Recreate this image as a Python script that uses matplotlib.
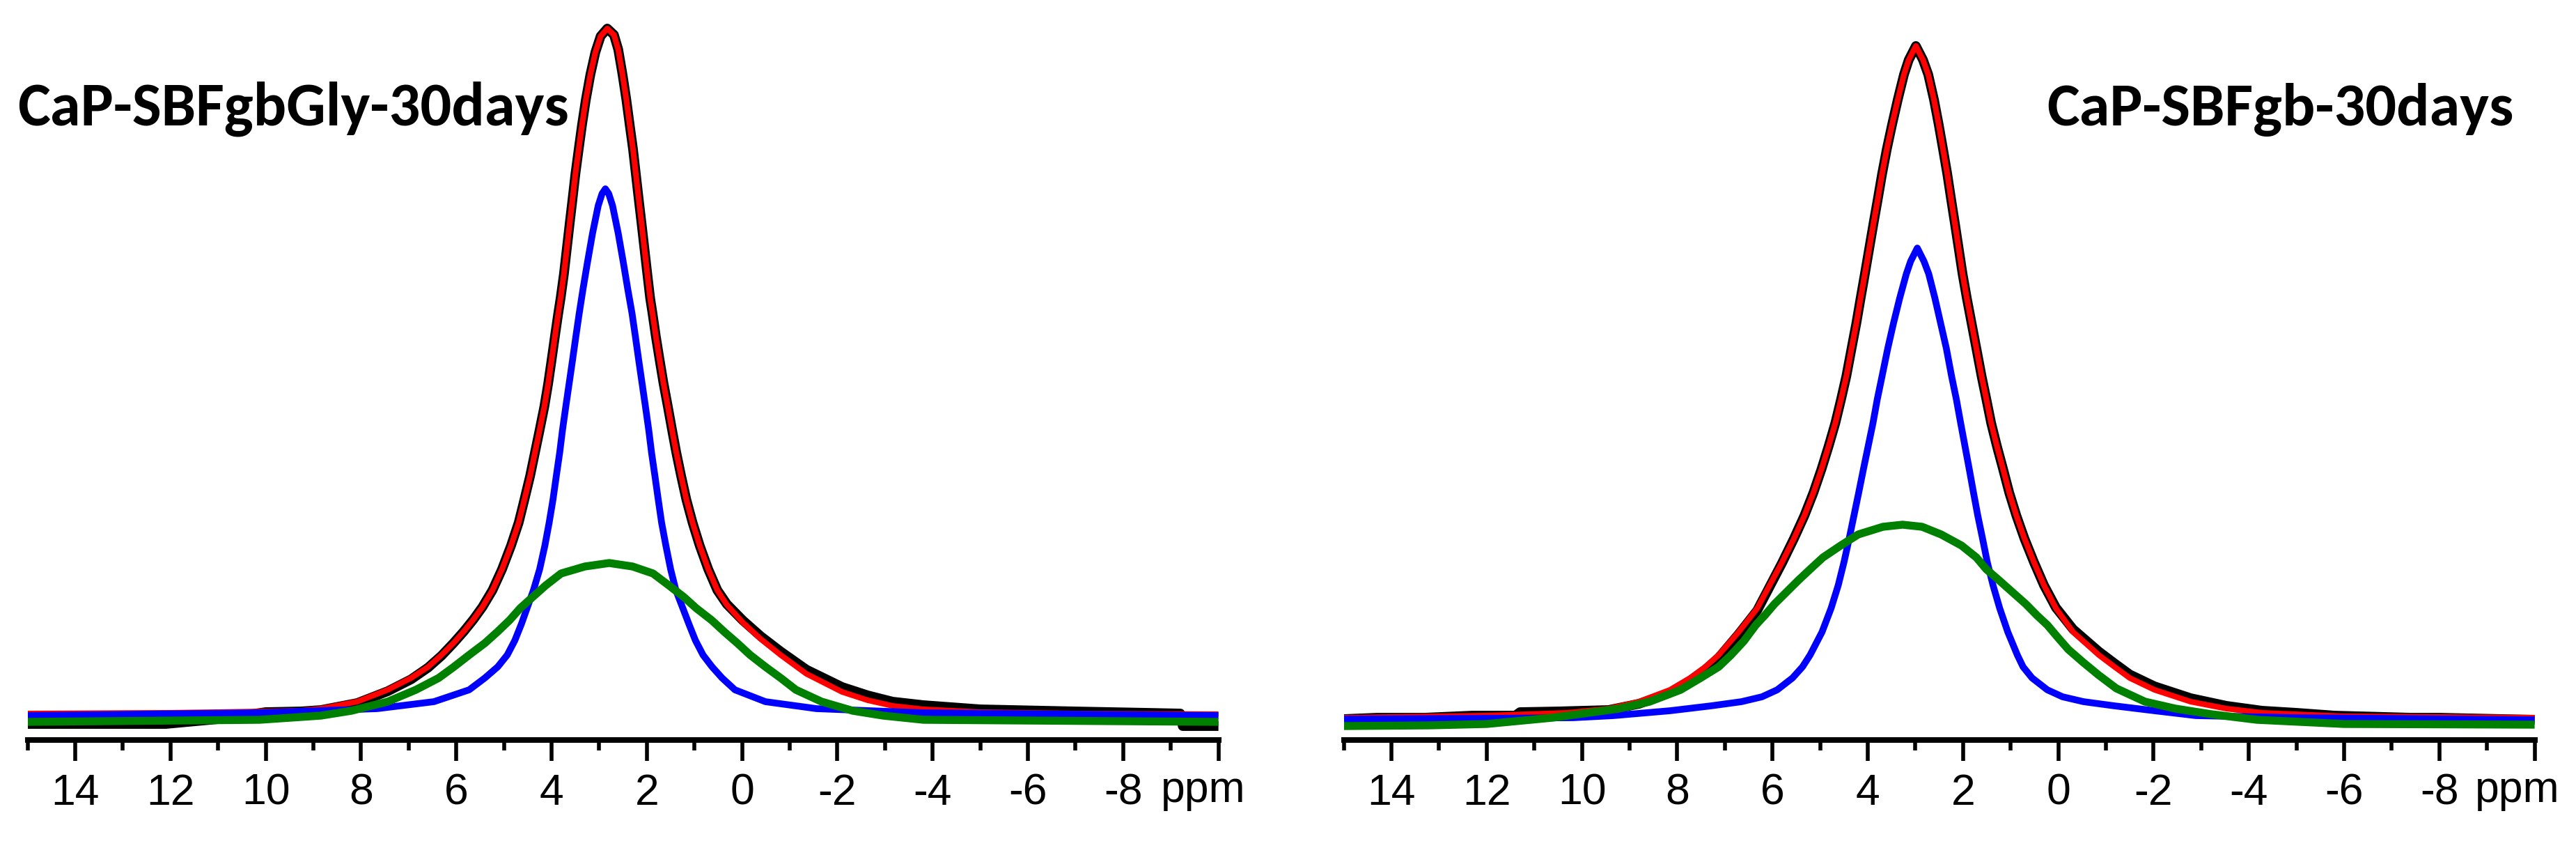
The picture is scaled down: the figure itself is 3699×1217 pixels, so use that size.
import matplotlib
matplotlib.use("Agg")
import matplotlib.pyplot as plt

# ---- data: (ppm, intensity above baseline) ----
# left panel: CaP-SBFgbGly-30days
gly_exp = [(15.0, 1), (12.1, 1), (11.0, 8), (10.0, 18), (9.26, 19), (8.84, 21), (8.08, 31),
           (7.44, 48), (6.95, 65), (6.59, 82), (6.31, 99), (6.06, 117), (5.84, 134), (5.64, 151),
           (5.45, 169), (5.24, 193), (5.04, 223), (4.85, 257), (4.69, 290), (4.57, 323), (4.45, 357),
           (4.35, 390), (4.25, 423), (4.15, 457), (4.07, 490), (4.00, 523), (3.93, 557), (3.86, 590),
           (3.81, 612), (3.74, 647), (3.68, 683), (3.62, 719), (3.56, 754), (3.50, 790), (3.43, 826),
           (3.36, 861), (3.28, 897), (3.185, 933), (3.08, 965), (2.97, 988), (2.83, 999), (2.69, 990),
           (2.60, 969), (2.51, 933), (2.43, 897), (2.36, 861), (2.29, 826), (2.23, 790), (2.17, 754),
           (2.11, 719), (2.05, 683), (1.99, 647), (1.93, 612), (1.88, 590), (1.81, 557), (1.73, 523),
           (1.65, 490), (1.56, 457), (1.47, 423), (1.38, 390), (1.28, 357), (1.17, 323), (1.04, 290),
           (0.89, 257), (0.71, 223), (0.52, 193), (0.32, 173), (-0.01, 150), (-0.39, 127),
           (-0.81, 105), (-1.35, 79), (-2.10, 54), (-2.64, 42), (-3.16, 33), (-3.81, 28), (-5.0, 22),
           (-7.0, 19), (-8.5, 17), (-9.2, 16), (-9.25, -2), (-10.0, -2)]
gly_fit = [(15.0, 16), (12.0, 17), (10.0, 19), (9.26, 20), (8.84, 23), (8.08, 33), (7.44, 50),
           (6.95, 67), (6.59, 83), (6.31, 100), (6.06, 117), (5.84, 134), (5.64, 151), (5.45, 169),
           (5.24, 193), (5.04, 223), (4.85, 257), (4.69, 290), (4.57, 323), (4.45, 357), (4.35, 390),
           (4.25, 423), (4.15, 457), (4.07, 490), (4.00, 523), (3.93, 557), (3.86, 590), (3.81, 612),
           (3.74, 647), (3.68, 683), (3.62, 719), (3.56, 754), (3.50, 790), (3.43, 826), (3.36, 861),
           (3.28, 897), (3.185, 933), (3.08, 965), (2.97, 988), (2.83, 999), (2.69, 990), (2.60, 969),
           (2.51, 933), (2.43, 897), (2.36, 861), (2.29, 826), (2.23, 790), (2.17, 754), (2.11, 719),
           (2.05, 683), (1.99, 647), (1.93, 612), (1.88, 590), (1.81, 557), (1.73, 523), (1.65, 490),
           (1.56, 457), (1.47, 423), (1.38, 390), (1.28, 357), (1.17, 323), (1.04, 290), (0.89, 257),
           (0.71, 223), (0.52, 193), (0.32, 172), (-0.01, 147), (-0.39, 123), (-0.81, 100),
           (-1.35, 73), (-2.10, 47), (-2.64, 35), (-3.16, 27), (-3.81, 22), (-5.0, 18), (-7.0, 16),
           (-10.0, 15)]
gly_narrow = [(15.0, 13), (10.13, 17), (7.66, 23), (6.47, 33), (5.73, 50), (5.40, 67), (5.13, 83),
              (4.93, 100), (4.77, 121), (4.63, 145), (4.50, 170), (4.38, 193), (4.25, 223),
              (4.14, 257), (4.05, 290), (3.97, 323), (3.90, 357), (3.83, 390), (3.77, 423),
              (3.70, 457), (3.63, 490), (3.56, 523), (3.49, 557), (3.42, 590), (3.34, 625),
              (3.25, 662), (3.14, 705), (3.02, 745), (2.94, 762), (2.87, 769), (2.80, 762),
              (2.72, 745), (2.60, 705), (2.49, 662), (2.40, 625), (2.31, 590), (2.24, 557),
              (2.17, 523), (2.10, 490), (2.03, 457), (1.96, 423), (1.90, 390), (1.83, 357),
              (1.76, 323), (1.69, 290), (1.60, 257), (1.50, 223), (1.39, 193), (1.26, 170),
              (1.12, 145), (0.98, 121), (0.82, 100), (0.63, 83), (0.42, 67), (0.15, 50),
              (-0.49, 33), (-1.56, 23), (-3.81, 17), (-10.0, 13)]
gly_broad = [(15.0, 4), (10.13, 7), (8.84, 13), (8.20, 20), (7.44, 33), (6.85, 50), (6.37, 67),
             (6.05, 83), (5.73, 100), (5.40, 117), (5.14, 133), (4.88, 150), (4.66, 167), (4.40, 183),
             (4.12, 200), (3.80, 217), (3.30, 227), (2.79, 232), (2.30, 227), (1.87, 217), (1.54, 200),
             (1.22, 183), (0.96, 167), (0.64, 150), (0.37, 133), (0.10, 117), (-0.17, 100), (-0.49, 83),
             (-0.81, 67), (-1.13, 50), (-1.67, 33), (-2.32, 20), (-2.96, 13), (-3.81, 7), (-10.0, 4)]

# right panel: CaP-SBFgb-30days
gb_exp = [(15.0, 12), (14.3, 14), (13.3, 14), (12.3, 17), (11.4, 17), (11.3, 22), (10.5, 23),
          (9.44, 25), (8.80, 34), (8.15, 50), (7.73, 67), (7.41, 83), (7.13, 100), (6.71, 134),
          (6.32, 168), (6.06, 202), (5.80, 236), (5.55, 271), (5.33, 304), (5.14, 337), (4.97, 371),
          (4.82, 404), (4.68, 437), (4.56, 471), (4.45, 504), (4.34, 544), (4.24, 580), (4.15, 616),
          (4.06, 651), (3.97, 687), (3.88, 723), (3.79, 758), (3.70, 794), (3.60, 830), (3.49, 865),
          (3.37, 901), (3.24, 937), (3.14, 958), (2.99, 978), (2.84, 958), (2.73, 937), (2.61, 901),
          (2.51, 865), (2.42, 830), (2.33, 794), (2.25, 758), (2.17, 723), (2.09, 687), (2.01, 651),
          (1.92, 616), (1.82, 580), (1.72, 544), (1.61, 504), (1.51, 471), (1.41, 437), (1.29, 404),
          (1.16, 371), (1.03, 337), (0.88, 304), (0.71, 271), (0.51, 237), (0.30, 204), (0.05, 172),
          (-0.31, 141), (-0.85, 109), (-1.18, 92), (-1.50, 76), (-2.02, 59), (-2.78, 42),
          (-3.53, 31), (-4.28, 24), (-5.0, 21), (-5.8, 17), (-7.4, 14), (-8.0, 14), (-10.0, 11)]
gb_fit = [(15.0, 14), (12.0, 17), (10.30, 21), (9.44, 27), (8.80, 37), (8.15, 54), (7.73, 71),
          (7.41, 87), (7.13, 104), (6.71, 137), (6.32, 171), (6.06, 204), (5.80, 237), (5.55, 271),
          (5.33, 304), (5.14, 337), (4.97, 371), (4.82, 404), (4.68, 437), (4.56, 471), (4.45, 504),
          (4.34, 544), (4.24, 580), (4.15, 616), (4.06, 651), (3.97, 687), (3.88, 723), (3.79, 758),
          (3.70, 794), (3.60, 830), (3.49, 865), (3.37, 901), (3.24, 937), (3.14, 958), (2.99, 978),
          (2.84, 958), (2.73, 937), (2.61, 901), (2.51, 865), (2.42, 830), (2.33, 794), (2.25, 758),
          (2.17, 723), (2.09, 687), (2.01, 651), (1.92, 616), (1.82, 580), (1.72, 544), (1.61, 504),
          (1.51, 471), (1.41, 437), (1.29, 404), (1.16, 371), (1.03, 337), (0.88, 304), (0.71, 271),
          (0.51, 237), (0.30, 204), (0.05, 171), (-0.31, 137), (-0.85, 104), (-1.18, 87),
          (-1.50, 71), (-2.02, 54), (-2.78, 37), (-3.53, 27), (-4.28, 21), (-6.0, 16), (-10.0, 14)]
gb_narrow = [(15.0, 12), (12.0, 13), (10.18, 14), (9.34, 17), (8.15, 24), (7.29, 31), (6.65, 37),
             (6.22, 44), (5.90, 54), (5.58, 71), (5.37, 87), (5.21, 104), (4.96, 137), (4.77, 171),
             (4.62, 204), (4.50, 237), (4.39, 271), (4.29, 304), (4.19, 337), (4.09, 371), (3.99, 404),
             (3.89, 437), (3.80, 471), (3.70, 504), (3.58, 544), (3.46, 580), (3.33, 616), (3.19, 651),
             (3.10, 669), (2.96, 688), (2.82, 669), (2.72, 651), (2.59, 616), (2.47, 580), (2.35, 544),
             (2.24, 504), (2.14, 471), (2.05, 437), (1.96, 404), (1.87, 371), (1.78, 337), (1.69, 304),
             (1.59, 271), (1.49, 237), (1.37, 204), (1.23, 171), (1.06, 137), (0.86, 104), (0.74, 87),
             (0.55, 71), (0.23, 54), (-0.09, 44), (-0.53, 37), (-1.18, 31), (-2.02, 24), (-2.89, 17),
             (-5.0, 14), (-10.0, 11)]
gb_broad = [(15.0, 2), (13.2, 3), (12.0, 5), (10.62, 14), (9.86, 21), (9.22, 27), (8.58, 37),
            (7.93, 54), (7.51, 71), (7.13, 87), (6.87, 104), (6.60, 124), (6.35, 147), (6.16, 161),
            (5.96, 177), (5.71, 194), (5.46, 211), (5.21, 227), (4.94, 244), (4.57, 261), (4.20, 277),
            (3.68, 288), (3.27, 291), (2.86, 288), (2.46, 277), (2.03, 261), (1.72, 244), (1.51, 227),
            (1.24, 211), (0.96, 194), (0.68, 177), (0.45, 161), (0.23, 147), (0.02, 130),
            (-0.21, 112), (-0.53, 93), (-0.85, 75), (-1.22, 56), (-1.82, 37), (-2.46, 27),
            (-3.21, 19), (-4.17, 11), (-6.0, 5), (-10.0, 4)]

titles = ["CaP-SBFgbGly-30days", "CaP-SBFgb-30days"]
major_ticks = [14, 12, 10, 8, 6, 4, 2, 0, -2, -4, -6, -8, -10]
minor_ticks = [15, 13, 11, 9, 7, 5, 3, 1, -1, -3, -5, -7, -9]
tick_labels = ["14", "12", "10", "8", "6", "4", "2", "0", "-2", "-4", "-6", "-8", ""]

W, H = 3699, 1217
fig = plt.figure(figsize=(W / 100, H / 100), dpi=100)

num_font = ["Liberation Sans Narrow", "Liberation Sans", "DejaVu Sans"]
title_font = ["Carlito", "Lato", "DejaVu Sans"]


def draw_panel(left_px, ybot, curves):
    ax = fig.add_axes([left_px / W, (H - 1062) / H, 1710 / W, 1062 / H])
    ax.set_xlim(15, -10)
    ax.set_ylim(ybot, ybot + 1062)
    # experimental, total fit, narrow component, broad component
    styles = [("black", 10), ("#ff0000", 5.8), ("#0000ff", 7), ("#008000", 8.2)]
    for pts, (col, lw) in zip(curves, styles):
        x = [p[0] for p in pts]
        y = [p[1] for p in pts]
        ax.plot(x, y, color=col, lw=lw, solid_joinstyle="round", solid_capstyle="butt")
    for s in ["top", "left", "right"]:
        ax.spines[s].set_visible(False)
    ax.spines["bottom"].set_linewidth(5.8)
    ax.set_yticks([])
    ax.set_xticks(major_ticks)
    ax.set_xticklabels(tick_labels, fontfamily=num_font)
    ax.set_xticks(minor_ticks, minor=True)
    ax.tick_params(axis="x", which="major", direction="out", length=21.6, width=4,
                   pad=12, labelsize=45)
    ax.tick_params(axis="x", which="minor", direction="out", length=11, width=4)
    ax.patch.set_alpha(0)
    return ax


axL = draw_panel(39.6, -22, [gly_exp, gly_fit, gly_narrow, gly_broad])
axR = draw_panel(1929.6, -18, [gb_exp, gb_fit, gb_narrow, gb_broad])

# unit label in place of the last tick label
for xc in [1728, 3615]:
    fig.text(xc / W, 1 - 1151 / H, "ppm", ha="center", va="baseline",
             fontsize=45, fontfamily=num_font)

# sample names, scaled to the width they take in the reference
renderer = fig.canvas.get_renderer()
t1 = fig.text(25 / W, 1 - 180 / H, titles[0], ha="left", va="baseline",
              fontsize=56, fontweight="bold", fontfamily=title_font)
t2 = fig.text(3610 / W, 1 - 180 / H, titles[1], ha="right", va="baseline",
              fontsize=56, fontweight="bold", fontfamily=title_font)
for t, target in [(t1, 792), (t2, 671)]:
    w = t.get_window_extent(renderer).width
    t.set_fontsize(56 * target / w)

fig.savefig("out.png", dpi=100)
